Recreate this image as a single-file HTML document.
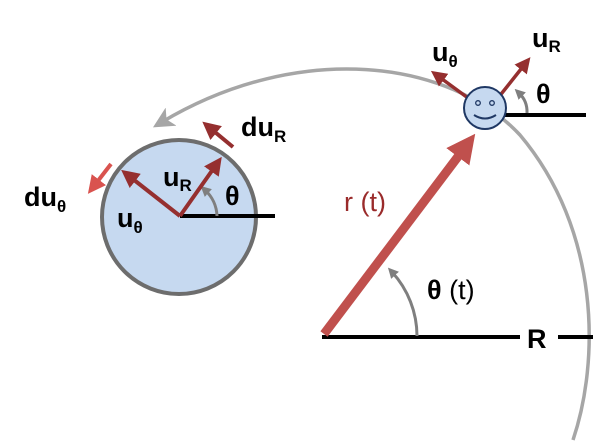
<!DOCTYPE html>
<html><head><style>body{margin:0;background:#fff}svg{display:block}text{font-family:"Liberation Sans",sans-serif;font-weight:bold}text.n{font-weight:normal}</style></head><body>
<svg width="600" height="445" viewBox="0 0 600 445">
<defs>
<marker id="ag" markerWidth="6" markerHeight="6" refX="3" refY="3" orient="auto" markerUnits="strokeWidth"><path d="M0,0 L6,3 L0,6 L1.5,3Z" fill="#a6a6a6"/></marker>
<marker id="ar" markerWidth="4.5" markerHeight="4.5" refX="2" refY="2.25" orient="auto" markerUnits="strokeWidth"><path d="M0,0 L4.5,2.25 L0,4.5Z" fill="#952f2f"/></marker>
<marker id="ab" markerWidth="3.2" markerHeight="3.2" refX="1.5" refY="1.6" orient="auto" markerUnits="strokeWidth"><path d="M0,0 L3.2,1.6 L0,3.2Z" fill="#c0504d"/></marker>
<marker id="al" markerWidth="4.5" markerHeight="4.5" refX="2" refY="2.25" orient="auto" markerUnits="strokeWidth"><path d="M0,0 L4.5,2.25 L0,4.5Z" fill="#d9534f"/></marker>
<marker id="gy" markerWidth="3.5" markerHeight="3.5" refX="1.5" refY="1.75" orient="auto" markerUnits="strokeWidth"><path d="M0,0 L3.5,1.75 L0,3.5Z" fill="#7f7f7f"/></marker>
</defs>
<path d="M573,440 C600,360 600,230 520,135 C450,60 300,40 162,122" fill="none" stroke="#a6a6a6" stroke-width="3.5" marker-end="url(#ag)"/>
<line x1="322" y1="337" x2="520" y2="337" stroke="#000" stroke-width="4"/>
<line x1="558" y1="337" x2="593" y2="337" stroke="#000" stroke-width="4"/>
<text x="527" y="348" font-size="27">R</text>
<line x1="324" y1="334" x2="466" y2="146" stroke="#c0504d" stroke-width="9" marker-end="url(#ab)"/>
<path d="M417,336 A95,95 0 0 0 392,272" fill="none" stroke="#7f7f7f" stroke-width="3" marker-end="url(#gy)"/>
<text x="427" y="299" font-size="27" class="n"><tspan font-weight="bold">θ</tspan> (t)</text>
<text x="344" y="211" font-size="27" class="n" fill="#9a2b2b">r (t)</text>
<circle cx="179" cy="217" r="77" fill="#c6d9f0" stroke="#6d6d6d" stroke-width="4"/>
<line x1="180" y1="216" x2="275" y2="216" stroke="#000" stroke-width="4"/>
<path d="M217,216 A37,37 0 0 0 205,190" fill="none" stroke="#7f7f7f" stroke-width="3" marker-end="url(#gy)"/>
<line x1="180" y1="216" x2="216" y2="165" stroke="#952f2f" stroke-width="4" marker-end="url(#ar)"/>
<line x1="180" y1="216" x2="129" y2="176" stroke="#952f2f" stroke-width="4" marker-end="url(#ar)"/>
<line x1="233" y1="147" x2="210" y2="128" stroke="#952f2f" stroke-width="4" marker-end="url(#ar)"/>
<line x1="111" y1="164" x2="94" y2="186" stroke="#d9534f" stroke-width="4" marker-end="url(#al)"/>
<text x="163" y="186" font-size="27">u<tspan font-size="17" dy="5">R</tspan></text>
<text x="117" y="227" font-size="27">u<tspan font-size="17" dy="6">θ</tspan></text>
<text x="225" y="205" font-size="27">θ</text>
<text x="241" y="136" font-size="27">du<tspan font-size="17" dy="6">R</tspan></text>
<text x="24" y="206" font-size="27">du<tspan font-size="17" dy="6">θ</tspan></text>
<line x1="505" y1="115" x2="586" y2="115" stroke="#000" stroke-width="4"/>
<path d="M527,113 A26,26 0 0 0 519,93" fill="none" stroke="#7f7f7f" stroke-width="3" marker-end="url(#gy)"/>
<line x1="498" y1="98" x2="525" y2="64" stroke="#952f2f" stroke-width="3.5" marker-end="url(#ar)"/>
<line x1="468" y1="98" x2="438" y2="76" stroke="#952f2f" stroke-width="3.5" marker-end="url(#ar)"/>
<circle cx="485" cy="108" r="21" fill="#c6d9f0" stroke="#1f3864" stroke-width="2"/>
<circle cx="478" cy="103" r="2.3" fill="none" stroke="#1f3864" stroke-width="1.3"/>
<circle cx="492" cy="103" r="2.3" fill="none" stroke="#1f3864" stroke-width="1.3"/>
<path d="M474,115 Q485,122 496,115" fill="none" stroke="#1f3864" stroke-width="2"/>
<text x="536" y="103" font-size="27">θ</text>
<text x="432" y="61" font-size="27">u<tspan font-size="17" dy="6">θ</tspan></text>
<text x="532" y="47" font-size="27">u<tspan font-size="17" dy="5">R</tspan></text>
</svg>
</body></html>
